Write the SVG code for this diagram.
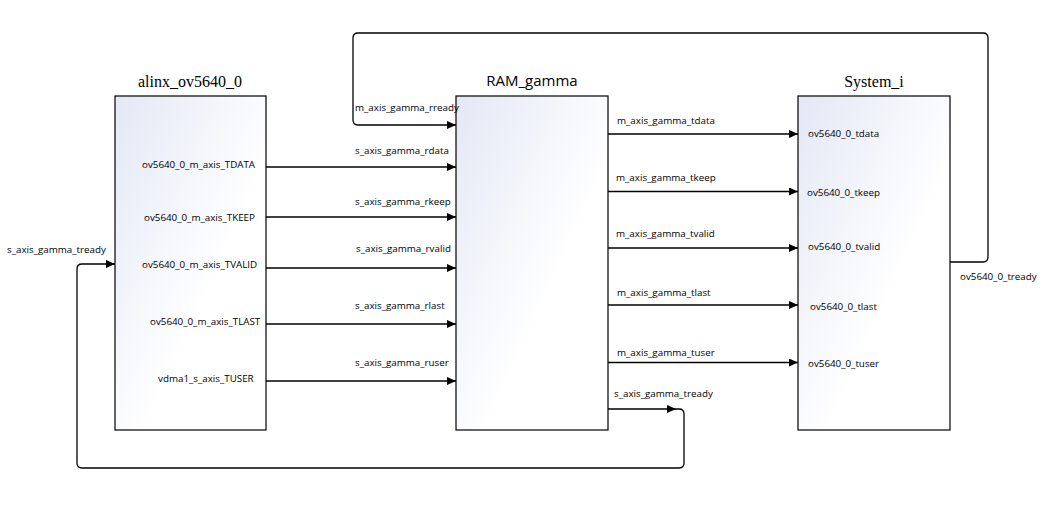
<svg xmlns="http://www.w3.org/2000/svg" width="1055" height="529" viewBox="0 0 1055 529">
<style>
.box{stroke:#000;stroke-width:1.2;fill:url(#g)}
.title{font-family:"Liberation Serif",serif;font-size:16px;fill:#000}
.title2{font-family:"Open Sans","Noto Sans",sans-serif;font-size:15px;fill:#000}
.lbl{font-family:"Open Sans","Noto Sans",sans-serif;font-size:9.8px;fill:#000}
.wire{fill:none;stroke:#000;stroke-width:1.3}
.ah{fill:#000}
</style>
<defs>
<linearGradient id="g" x1="0" y1="0" x2="1" y2="1">
<stop offset="0" stop-color="#e3e8f5"/>
<stop offset="0.6" stop-color="#ffffff"/>
</linearGradient>
<marker id="arr" markerUnits="userSpaceOnUse" markerWidth="10" markerHeight="9" refX="9" refY="4" orient="auto">
<path d="M0,0 L9,4 L0,8 z" fill="#000"/>
</marker>
</defs>
<rect width="1055" height="529" fill="#fff"/>
<g id="alinx_ov5640_0">
<rect class="box" x="115" y="96" width="151" height="334"/>
<text class="title" x="190" y="87" text-anchor="middle">alinx_ov5640_0</text>
<text class="lbl" x="142" y="168">ov5640_0_m_axis_TDATA</text>
<text class="lbl" x="144" y="221">ov5640_0_m_axis_TKEEP</text>
<text class="lbl" x="142" y="268">ov5640_0_m_axis_TVALID</text>
<text class="lbl" x="150" y="325">ov5640_0_m_axis_TLAST</text>
<text class="lbl" x="158" y="382">vdma1_s_axis_TUSER</text>
</g>
<g id="RAM_gamma">
<rect class="box" x="456" y="96" width="152" height="334"/>
<text class="title2" x="532" y="86" text-anchor="middle">RAM_gamma</text>
</g>
<g id="System_i">
<rect class="box" x="798" y="96" width="152" height="334"/>
<text class="title" x="874" y="87" text-anchor="middle">System_i</text>
<text class="lbl" x="808" y="137">ov5640_0_tdata</text>
<text class="lbl" x="807" y="196">ov5640_0_tkeep</text>
<text class="lbl" x="808" y="250">ov5640_0_tvalid</text>
<text class="lbl" x="810" y="310">ov5640_0_tlast</text>
<text class="lbl" x="808" y="367">ov5640_0_tuser</text>
</g>
<g id="connectors">
<path class="wire" marker-end="url(#arr)" d="M266,167 H456"/>
<path class="wire" marker-end="url(#arr)" d="M266,217 H456"/>
<path class="wire" marker-end="url(#arr)" d="M266,268 H456"/>
<path class="wire" marker-end="url(#arr)" d="M266,324 H456"/>
<path class="wire" marker-end="url(#arr)" d="M266,381 H456"/>
<path class="wire" marker-end="url(#arr)" d="M608,134 H798"/>
<path class="wire" marker-end="url(#arr)" d="M608,191.5 H798"/>
<path class="wire" marker-end="url(#arr)" d="M608,248 H798"/>
<path class="wire" marker-end="url(#arr)" d="M608,305 H798"/>
<path class="wire" marker-end="url(#arr)" d="M608,362.5 H798"/>
<path class="wire" marker-end="url(#arr)" d="M950,262 H983 Q988,262 988,257 V38 Q988,33 983,33 H358 Q353,33 353,38 V120 Q353,125 358,125 H456"/>
<path class="wire" marker-end="url(#arr)" d="M608,409 H679 Q684,409 684,414 V463 Q684,468 679,468 H82 Q77,468 77,463 V269 Q77,264 82,264 H115"/>
<path class="ah" d="M667,405 L676,409 L667,413 z"/>
<text class="lbl" x="355" y="154">s_axis_gamma_rdata</text>
<text class="lbl" x="355" y="205">s_axis_gamma_rkeep</text>
<text class="lbl" x="356" y="252">s_axis_gamma_rvalid</text>
<text class="lbl" x="355" y="309">s_axis_gamma_rlast</text>
<text class="lbl" x="355" y="366">s_axis_gamma_ruser</text>
<text class="lbl" x="355" y="111">m_axis_gamma_rready</text>
<text class="lbl" x="617" y="124">m_axis_gamma_tdata</text>
<text class="lbl" x="616" y="181">m_axis_gamma_tkeep</text>
<text class="lbl" x="616" y="237">m_axis_gamma_tvalid</text>
<text class="lbl" x="617" y="296">m_axis_gamma_tlast</text>
<text class="lbl" x="617" y="356">m_axis_gamma_tuser</text>
<text class="lbl" x="614" y="397">s_axis_gamma_tready</text>
<text class="lbl" x="7" y="253">s_axis_gamma_tready</text>
<text class="lbl" x="960" y="280">ov5640_0_tready</text>
</g>
</svg>
